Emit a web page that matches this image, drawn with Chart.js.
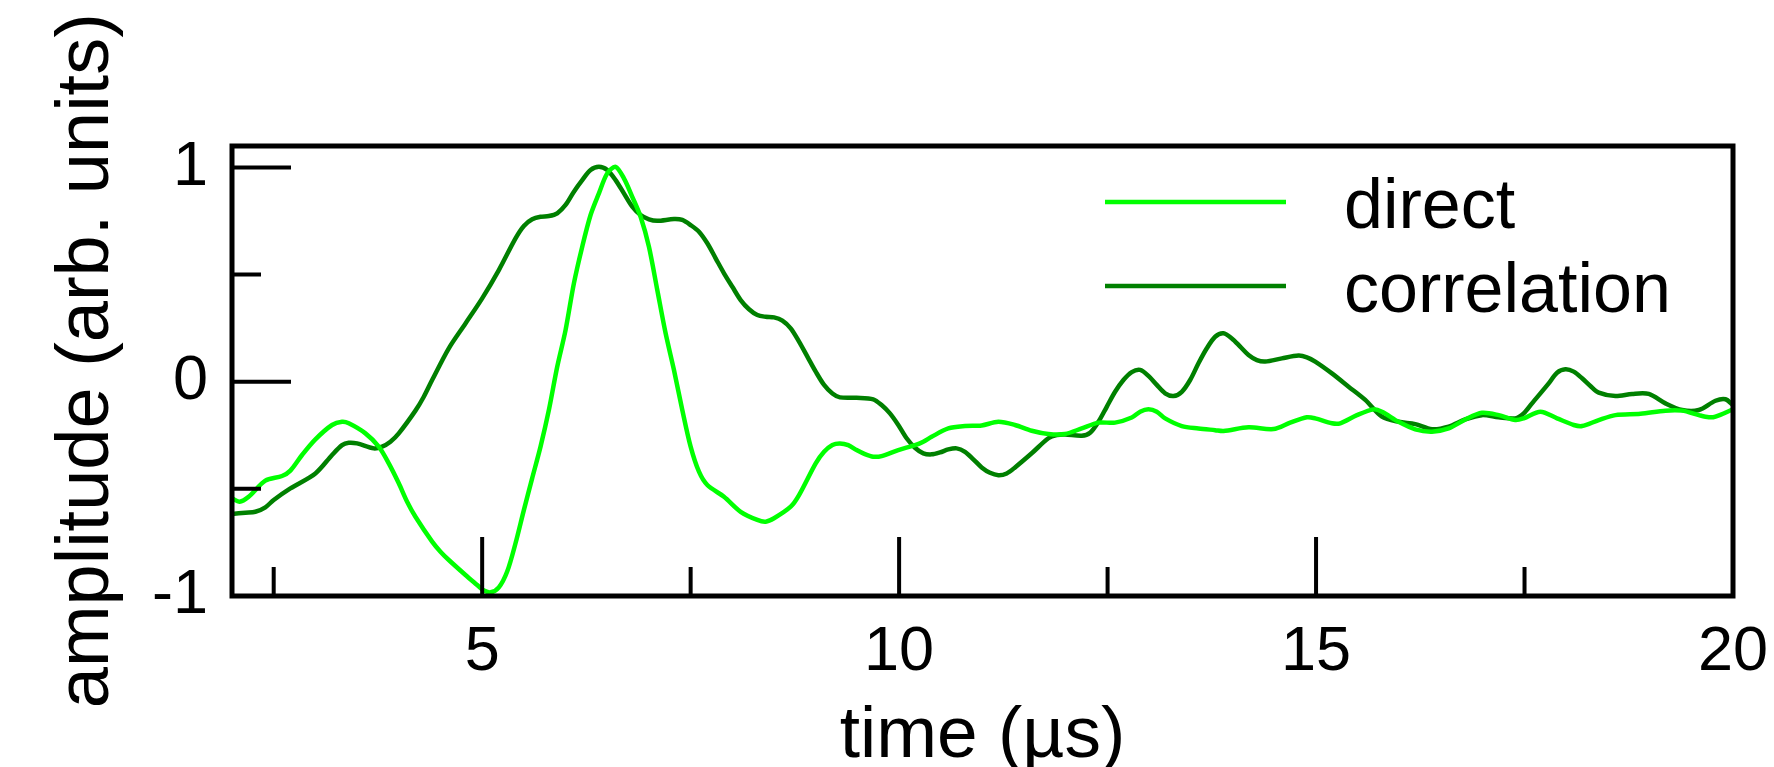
<!DOCTYPE html>
<html>
<head>
<meta charset="utf-8">
<script src="https://cdn.jsdelivr.net/npm/chart.js@4/dist/chart.umd.min.js"></script>
<style>
  html, body { margin: 0; padding: 0; background: #fff; }
  #wrap { width: 1774px; height: 767px; }
</style>
</head>
<body>
<div id="wrap"><canvas id="chart"></canvas></div>
<script>
// Waveforms (time in µs, amplitude in arb. units)
const directTime = [2.0, 2.09, 2.2, 2.4, 2.6, 2.7, 2.84, 3.0, 3.2, 3.32, 3.4, 3.6, 3.76, 3.88, 4.0, 4.1, 4.2, 4.4, 4.5, 4.6, 4.8, 4.94, 5.0, 5.1, 5.2, 5.3, 5.4, 5.5, 5.6, 5.7, 5.8, 5.9, 6.0, 6.1, 6.2, 6.3, 6.4, 6.5, 6.6, 6.7, 6.8, 6.9, 7.0, 7.1, 7.2, 7.3, 7.4, 7.5, 7.6, 7.7, 7.9, 8.1, 8.3, 8.4, 8.5, 8.7, 8.8, 9.0, 9.1, 9.2, 9.29, 9.39, 9.49, 9.59, 9.69, 9.79, 9.99, 10.19, 10.29, 10.39, 10.59, 10.79, 10.99, 11.19, 11.39, 11.59, 11.79, 11.99, 12.19, 12.39, 12.59, 12.79, 12.89, 12.99, 13.09, 13.19, 13.39, 13.59, 13.79, 13.89, 14.19, 14.49, 14.69, 14.89, 14.99, 15.19, 15.29, 15.49, 15.69, 15.79, 15.99, 16.19, 16.39, 16.59, 16.79, 16.99, 17.19, 17.39, 17.49, 17.69, 17.89, 18.09, 18.19, 18.39, 18.59, 18.89, 19.19, 19.39, 19.59, 19.71, 19.79, 20.0];
const directAmp = [-0.544, -0.56, -0.537, -0.462, -0.44, -0.415, -0.342, -0.269, -0.202, -0.187, -0.194, -0.241, -0.303, -0.381, -0.474, -0.56, -0.63, -0.746, -0.793, -0.832, -0.902, -0.949, -0.969, -0.983, -0.96, -0.886, -0.754, -0.599, -0.45, -0.303, -0.132, 0.07, 0.241, 0.459, 0.63, 0.778, 0.879, 0.972, 1.003, 0.949, 0.863, 0.77, 0.63, 0.428, 0.226, 0.055, -0.132, -0.303, -0.42, -0.482, -0.537, -0.607, -0.645, -0.653, -0.637, -0.583, -0.529, -0.381, -0.327, -0.295, -0.288, -0.296, -0.319, -0.338, -0.35, -0.347, -0.319, -0.296, -0.28, -0.257, -0.218, -0.207, -0.204, -0.187, -0.202, -0.229, -0.244, -0.244, -0.218, -0.191, -0.191, -0.167, -0.14, -0.129, -0.14, -0.171, -0.207, -0.218, -0.226, -0.23, -0.213, -0.221, -0.191, -0.166, -0.171, -0.194, -0.194, -0.156, -0.129, -0.14, -0.187, -0.222, -0.233, -0.218, -0.176, -0.145, -0.156, -0.179, -0.171, -0.14, -0.171, -0.202, -0.207, -0.179, -0.156, -0.15, -0.135, -0.135, -0.156, -0.166, -0.163, -0.129];

const corrTime = [2.0, 2.16, 2.28, 2.4, 2.5, 2.7, 3.0, 3.2, 3.32, 3.4, 3.5, 3.7, 3.8, 3.9, 4.0, 4.2, 4.3, 4.4, 4.6, 4.8, 5.0, 5.2, 5.4, 5.5, 5.6, 5.7, 5.8, 5.9, 6.0, 6.1, 6.2, 6.3, 6.4, 6.5, 6.6, 6.7, 6.8, 6.9, 7.0, 7.1, 7.3, 7.4, 7.5, 7.6, 7.7, 7.8, 7.9, 8.0, 8.1, 8.2, 8.3, 8.4, 8.5, 8.6, 8.7, 8.8, 8.9, 9.0, 9.1, 9.2, 9.29, 9.49, 9.69, 9.79, 9.89, 9.99, 10.09, 10.19, 10.29, 10.39, 10.49, 10.59, 10.69, 10.79, 10.89, 10.99, 11.09, 11.19, 11.29, 11.39, 11.59, 11.79, 11.89, 11.99, 12.19, 12.29, 12.39, 12.49, 12.59, 12.69, 12.79, 12.89, 12.99, 13.09, 13.19, 13.29, 13.39, 13.49, 13.59, 13.69, 13.79, 13.89, 13.99, 14.09, 14.19, 14.29, 14.39, 14.59, 14.79, 14.89, 14.99, 15.19, 15.39, 15.59, 15.79, 15.99, 16.19, 16.39, 16.59, 16.79, 16.99, 17.19, 17.39, 17.49, 17.59, 17.79, 17.89, 17.99, 18.09, 18.19, 18.29, 18.39, 18.59, 18.79, 18.99, 19.19, 19.39, 19.59, 19.79, 19.91, 20.0];
const corrAmp = [-0.617, -0.611, -0.607, -0.586, -0.552, -0.498, -0.428, -0.342, -0.296, -0.285, -0.288, -0.311, -0.303, -0.28, -0.241, -0.135, -0.07, 0.008, 0.156, 0.272, 0.389, 0.521, 0.669, 0.727, 0.758, 0.77, 0.773, 0.786, 0.825, 0.887, 0.941, 0.988, 1.003, 0.988, 0.941, 0.879, 0.817, 0.778, 0.758, 0.751, 0.759, 0.755, 0.731, 0.7, 0.646, 0.576, 0.506, 0.443, 0.381, 0.338, 0.311, 0.303, 0.3, 0.285, 0.249, 0.187, 0.117, 0.047, -0.015, -0.055, -0.073, -0.075, -0.082, -0.109, -0.148, -0.202, -0.264, -0.308, -0.334, -0.339, -0.33, -0.316, -0.311, -0.327, -0.362, -0.4, -0.425, -0.436, -0.428, -0.4, -0.334, -0.264, -0.249, -0.246, -0.252, -0.238, -0.187, -0.117, -0.047, 0.008, 0.045, 0.055, 0.027, -0.015, -0.054, -0.067, -0.047, 0.008, 0.086, 0.156, 0.21, 0.226, 0.202, 0.164, 0.125, 0.101, 0.094, 0.109, 0.122, 0.114, 0.094, 0.039, -0.023, -0.085, -0.163, -0.187, -0.198, -0.222, -0.21, -0.176, -0.156, -0.166, -0.171, -0.148, -0.101, -0.008, 0.042, 0.058, 0.047, 0.016, -0.02, -0.051, -0.067, -0.057, -0.057, -0.101, -0.132, -0.132, -0.089, -0.082, -0.109];

// Axis ticks
const xLabelTicks = [5, 10, 15, 20];
const xMajorTicks = [5, 10, 15];
const xMinorTicks = [2.5, 7.5, 12.5, 17.5];
const yLabelTicks = [-1, 0, 1];
const yMajorTicks = [0, 1];
const yMinorTicks = [-0.5, 0.5];

const FONT = "'Liberation Sans', Arial, Helvetica, sans-serif";

function toPoints(xs, ys) {
    return xs.map((t, i) => ({ x: t, y: ys[i] }));
}

// Frame, inward tick marks and the in-plot legend
const framePlugin = {
    id: 'frame',
    afterDatasetsDraw(chart) {
        const { ctx, chartArea: a, scales: { x, y } } = chart;
        ctx.save();
        ctx.strokeStyle = '#000';
        ctx.lineWidth = 5;
        ctx.lineCap = 'butt';
        ctx.strokeRect(a.left, a.top, a.right - a.left, a.bottom - a.top);

        ctx.lineWidth = 4;
        ctx.beginPath();
        xMajorTicks.forEach(v => {
            const px = x.getPixelForValue(v);
            ctx.moveTo(px, a.bottom);
            ctx.lineTo(px, a.bottom - 59);
        });
        xMinorTicks.forEach(v => {
            const px = x.getPixelForValue(v);
            ctx.moveTo(px, a.bottom);
            ctx.lineTo(px, a.bottom - 29);
        });
        yMajorTicks.forEach(v => {
            const py = y.getPixelForValue(v);
            ctx.moveTo(a.left, py);
            ctx.lineTo(a.left + 59, py);
        });
        yMinorTicks.forEach(v => {
            const py = y.getPixelForValue(v);
            ctx.moveTo(a.left, py);
            ctx.lineTo(a.left + 29, py);
        });
        ctx.stroke();

        // legend
        ctx.font = `70px ${FONT}`;
        ctx.fillStyle = '#000';
        ctx.textBaseline = 'alphabetic';
        chart.data.datasets.forEach((ds, i) => {
            const ly = a.top + 56 + i * 84;
            ctx.strokeStyle = ds.borderColor;
            ctx.lineWidth = ds.borderWidth;
            ctx.beginPath();
            ctx.moveTo(a.left + 873, ly);
            ctx.lineTo(a.left + 1054, ly);
            ctx.stroke();
            ctx.fillText(ds.label, a.left + 1112, ly + 26);
        });
        ctx.restore();
    }
};

const ctx = document.getElementById('chart');
const chart = new Chart(ctx, {
    type: 'line',
    data: {
        datasets: [{
            label: 'direct',
            data: toPoints(directTime, directAmp),
            borderColor: '#00ff00',
            borderWidth: 4.5,
            pointRadius: 0,
            tension: 0.3,
            fill: false
        }, {
            label: 'correlation',
            data: toPoints(corrTime, corrAmp),
            borderColor: '#008000',
            borderWidth: 4.5,
            pointRadius: 0,
            tension: 0.3,
            fill: false
        }]
    },
    options: {
        responsive: true,
        maintainAspectRatio: false,
        animation: false,
        layout: { autoPadding: false, padding: { left: 0, right: 41, top: 146, bottom: 0 } },
        plugins: {
            legend: { display: false },
            tooltip: { enabled: false }
        },
        scales: {
            x: {
                type: 'linear',
                min: 2,
                max: 20,
                afterBuildTicks: s => { s.ticks = xLabelTicks.map(v => ({ value: v })); },
                afterFit: s => {
                    s.height = 171;
                    s.paddingLeft = 0;
                    s.paddingRight = 0;
                },
                grid: { display: false, drawTicks: false },
                border: { display: false },
                ticks: {
                    font: { size: 63, family: FONT },
                    color: '#000',
                    padding: 19,
                    maxRotation: 0,
                    autoSkip: false
                },
                title: {
                    display: true,
                    text: 'time (µs)',
                    color: '#000',
                    font: { size: 73, family: FONT, lineHeight: 1 },
                    padding: { top: 0, bottom: -6 }
                }
            },
            y: {
                type: 'linear',
                min: -1,
                max: 1.1,
                afterBuildTicks: s => { s.ticks = yLabelTicks.map(v => ({ value: v })); },
                afterFit: s => {
                    s.width = 232;
                    s.paddingTop = 0;
                    s.paddingBottom = 0;
                },
                grid: { display: false, drawTicks: false },
                border: { display: false },
                ticks: {
                    font: { size: 63, family: FONT },
                    color: '#000',
                    padding: 24,
                    autoSkip: false
                },
                title: {
                    display: true,
                    text: ' amplitude (arb. units)',
                    color: '#000',
                    font: { size: 74, family: FONT, lineHeight: 1 },
                    padding: { top: 51, bottom: 0 }
                }
            }
        }
    },
    plugins: [framePlugin]
});
</script>
</body>
</html>
